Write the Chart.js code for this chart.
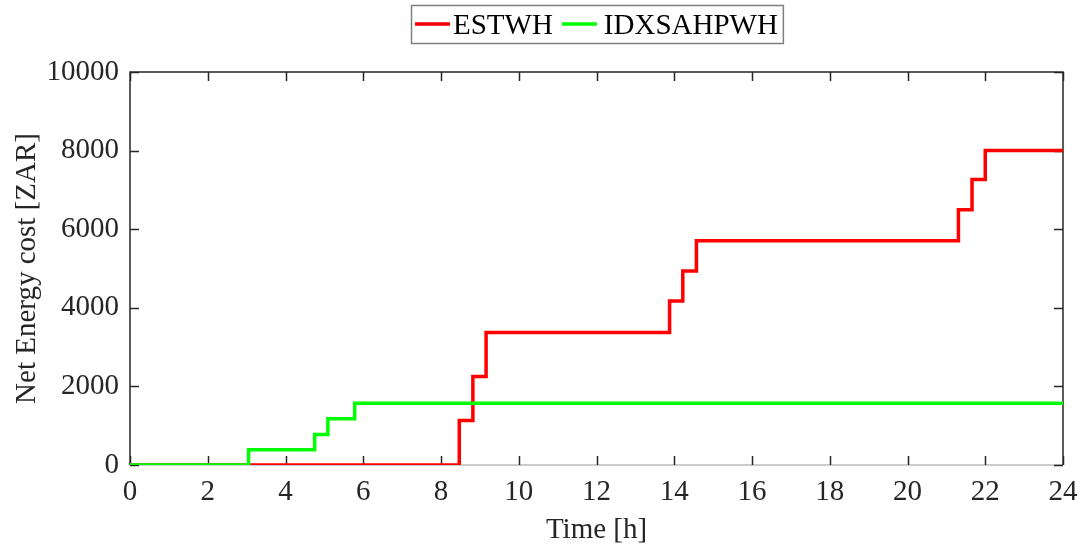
<!DOCTYPE html>
<html>
<head>
<meta charset="utf-8">
<script src="https://cdn.jsdelivr.net/npm/chart.js@4/dist/chart.umd.min.js"></script>
<style>
  html, body { margin: 0; padding: 0; background: #fff; }
  #wrap { width: 1081px; height: 548px; }
</style>
</head>
<body>
<div id="wrap"><canvas id="chart"></canvas></div>
<script>
// data (step values hold until next time)
const estwhTime = [0, 8.47, 8.82, 9.16, 13.88, 14.22, 14.57, 21.31, 21.66, 22.0, 24];
const estwhCost = [0, 1130, 2255, 3372, 4170, 4937, 5704, 6496, 7262, 8000, 8000];
const idxTime = [0, 3.05, 4.75, 5.09, 5.78, 24];
const idxCost = [0, 391, 774, 1175, 1574, 1574];
const seriesNames = ['ESTWH', 'IDXSAHPWH'];
const xTicks = [0, 2, 4, 6, 8, 10, 12, 14, 16, 18, 20, 22, 24];
const yTicks = [0, 2000, 4000, 6000, 8000, 10000];

const FONT = '"Liberation Serif", "DejaVu Serif", serif';
const TXT = '#262626';

function toPoints(xs, ys) {
    return xs.map((x, i) => ({ x: x, y: ys[i] }));
}

// box + inward ticks, matlab style
const boxPlugin = {
    id: 'box',
    beforeDatasetsDraw(chart) {
        const { ctx, chartArea: a } = chart;
        const xs = chart.scales.x, ys = chart.scales.y;
        const len = 9;
        ctx.save();
        ctx.lineWidth = 1.5;
        ctx.strokeStyle = '#bcbcbc';
        ctx.beginPath();
        ctx.moveTo(a.left, a.bottom); ctx.lineTo(a.right, a.bottom);
        ctx.stroke();
        ctx.strokeStyle = TXT;
        ctx.beginPath();
        ctx.moveTo(a.left, a.bottom); ctx.lineTo(a.left, a.top);
        ctx.lineTo(a.right, a.top); ctx.lineTo(a.right, a.bottom);
        xTicks.forEach(v => {
            const px = Math.round(xs.getPixelForValue(v)) + 0.5;
            ctx.moveTo(px, a.bottom); ctx.lineTo(px, a.bottom - len);
            ctx.moveTo(px, a.top); ctx.lineTo(px, a.top + len);
        });
        yTicks.forEach(v => {
            const py = Math.round(ys.getPixelForValue(v)) + 0.5;
            ctx.moveTo(a.left, py); ctx.lineTo(a.left + len, py);
            ctx.moveTo(a.right, py); ctx.lineTo(a.right - len, py);
        });
        ctx.stroke();
        ctx.restore();
    },
    afterDraw(chart) {
        // legend with a frame
        const { ctx, chartArea: a } = chart;
        ctx.save();
        ctx.font = '29px ' + FONT;
        const sw = 35;
        const w1 = ctx.measureText(seriesNames[0]).width;
        const w2 = ctx.measureText(seriesNames[1]).width;
        const total = 4 + sw + 3 + w1 + 9 + sw + 7 + w2 + 5;
        const cx = (a.left + a.right) / 2;
        const left = Math.round(cx - total / 2);
        const top = 5, bottom = 43, mid = 24;
        ctx.strokeStyle = '#7f7f7f';
        ctx.lineWidth = 1.5;
        ctx.strokeRect(left + 0.5, top + 0.5, total, bottom - top);
        const ds = chart.data.datasets;
        let x = left + 4;
        ctx.lineWidth = 3.5;
        ctx.strokeStyle = ds[0].borderColor;
        ctx.beginPath(); ctx.moveTo(x, mid); ctx.lineTo(x + sw, mid); ctx.stroke();
        x += sw + 3;
        ctx.fillStyle = '#000';
        ctx.textBaseline = 'alphabetic';
        ctx.fillText(seriesNames[0], x, 34);
        x += w1 + 9;
        ctx.strokeStyle = ds[1].borderColor;
        ctx.beginPath(); ctx.moveTo(x, mid); ctx.lineTo(x + sw, mid); ctx.stroke();
        x += sw + 7;
        ctx.fillText(seriesNames[1], x, 34);
        ctx.restore();
    }
};

new Chart(document.getElementById('chart'), {
    type: 'line',
    data: {
        datasets: [
            {
                label: seriesNames[0],
                data: toPoints(estwhTime, estwhCost),
                borderColor: '#ff0000',
                borderWidth: 3.5,
                stepped: true,
                pointRadius: 0,
                fill: false,
                order: 1
            },
            {
                label: seriesNames[1],
                data: toPoints(idxTime, idxCost),
                borderColor: '#00ff00',
                borderWidth: 3.5,
                stepped: true,
                pointRadius: 0,
                fill: false,
                order: 0
            }
        ]
    },
    options: {
        responsive: true,
        maintainAspectRatio: false,
        animation: false,
        layout: { padding: { top: 72, right: 18, left: 0, bottom: 0 } },
        plugins: { legend: { display: false }, tooltip: { enabled: false } },
        scales: {
            x: {
                type: 'linear',
                min: 0, max: 24,
                afterFit: s => { s.height = 83; s.paddingLeft = 0; s.paddingRight = 0; },
                afterBuildTicks: s => { s.ticks = xTicks.map(v => ({ value: v })); },
                grid: { display: true, drawOnChartArea: false, drawTicks: false },
                border: { display: false },
                ticks: {
                    color: TXT, font: { family: FONT, size: 29 }, padding: 10, maxRotation: 0,
                    callback: v => String(v)
                },
                title: {
                    display: true, text: 'Time [h]', color: TXT,
                    font: { family: FONT, size: 29 }, padding: { top: 0, bottom: 0 }
                }
            },
            y: {
                min: 0, max: 10000,
                afterFit: s => { s.width = 130; s.paddingTop = 0; s.paddingBottom = 0; },
                afterBuildTicks: s => { s.ticks = yTicks.map(v => ({ value: v })); },
                grid: { display: true, drawOnChartArea: false, drawTicks: false },
                border: { display: false },
                ticks: {
                    color: TXT, font: { family: FONT, size: 29 }, padding: 11,
                    callback: v => String(v)
                },
                title: {
                    display: true, text: 'Net Energy cost [ZAR]', color: TXT,
                    font: { family: FONT, size: 29 }, padding: { top: 10, bottom: 0 }
                }
            }
        }
    },
    plugins: [boxPlugin]
});
</script>
</body>
</html>
